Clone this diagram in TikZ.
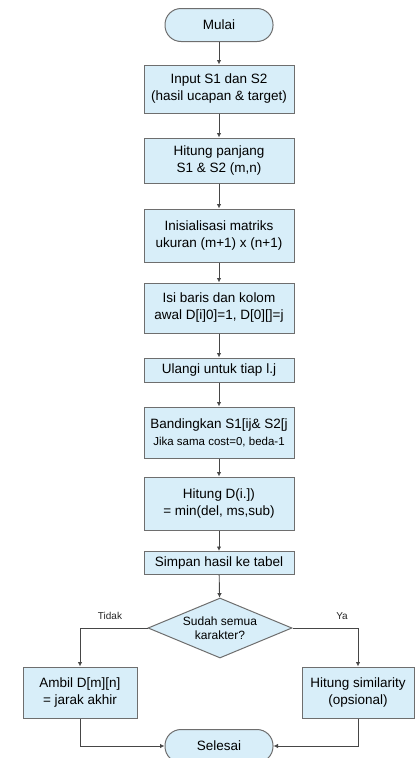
\documentclass[tikz,border=0pt]{standalone}
\usepackage{fontspec}
\setmainfont{Liberation Sans}
\usetikzlibrary{shapes.geometric,arrows.meta}
\definecolor{boxfill}{RGB}{216,238,249}
\definecolor{boxline}{RGB}{110,110,110}
\definecolor{arrline}{RGB}{70,70,70}
\begin{document}
\begin{tikzpicture}[x=1pt,y=-1pt,
  box/.style={draw=boxline, fill=boxfill, line width=1pt, minimum width=150pt, align=center, inner sep=2pt, font=\fontsize{13.5}{17}\selectfont},
  term/.style={box, rounded corners=16pt, minimum width=108pt, minimum height=33pt},
  arr/.style={draw=arrline, line width=0.9pt, -{Latex[length=4.5pt,width=4.5pt]}},
  dec/.style={diamond, draw=boxline, fill=boxfill, line width=1pt, aspect=2.4, minimum width=144pt, minimum height=60pt, inner sep=0pt, align=center, font=\fontsize{12}{14.5}\selectfont},
  lbl/.style={font=\fontsize{10}{12}\selectfont, text=black!85}]
\useasboundingbox (0,0) rectangle (418,758);
\node[term] (start) at (219,25) {Mulai};
\node[box, minimum height=48pt] (n1) at (219,89) {Input S1 dan S2\\(hasil ucapan \& target)};
\node[box, minimum height=45pt] (n2) at (219,160.5) {Hitung panjang\\S1 \& S2 (m,n)};
\node[box, minimum height=53pt] (n3) at (219,235.5) {Inisialisasi matriks\\ukuran (m+1) x (n+1)};
\node[box, minimum height=50pt] (n4) at (219,308) {Isi baris dan kolom\\awal D[i]0]=1, D[0][]=j};
\node[box, minimum height=24pt] (n5) at (219,370) {Ulangi untuk tiap l.j};
\node[box, minimum height=51pt] (n6) at (219,432.5) {Bandingkan S1[ij\& S2[j\\{\fontsize{11.5}{14}\selectfont Jika sama cost=0, beda-1}};
\node[box, minimum height=53pt] (n7) at (219,503.5) {Hitung D(i.])\\= min(del, ms,sub)};
\node[box, minimum height=23pt] (n8) at (219,563) {Simpan hasil ke tabel};
\node[dec] (dec) at (220,628) {Sudah semua\\karakter?};
\node[box, minimum width=114pt, minimum height=51pt] (left) at (80,692.5) {Ambil D[m][n]\\= jarak akhir};
\node[box, minimum width=112pt, minimum height=51pt] (right) at (358,692.5) {Hitung similarity\\(opsional)};
\node[term] (end) at (219,746) {Selesai};
\node[lbl] (tidak) at (110,616) {Tidak};
\node[lbl] (ya) at (342,616) {Ya};
\draw[arr] (start) -- (n1);
\draw[arr] (n1) -- (n2);
\draw[arr] (n2) -- (n3);
\draw[arr] (n3) -- (n4);
\draw[arr] (n4) -- (n5);
\draw[arr] (n5) -- (n6);
\draw[arr] (n6) -- (n7);
\draw[arr] (n7) -- (n8);
\draw[arr] (n8) -- (dec);
\draw[arr] (dec.west) -| (left.north);
\draw[arr] (dec.east) -| (right.north);
\draw[arr] (left.south) |- (end.west);
\draw[arr] (right.south) |- (end.east);
\end{tikzpicture}
\end{document}
